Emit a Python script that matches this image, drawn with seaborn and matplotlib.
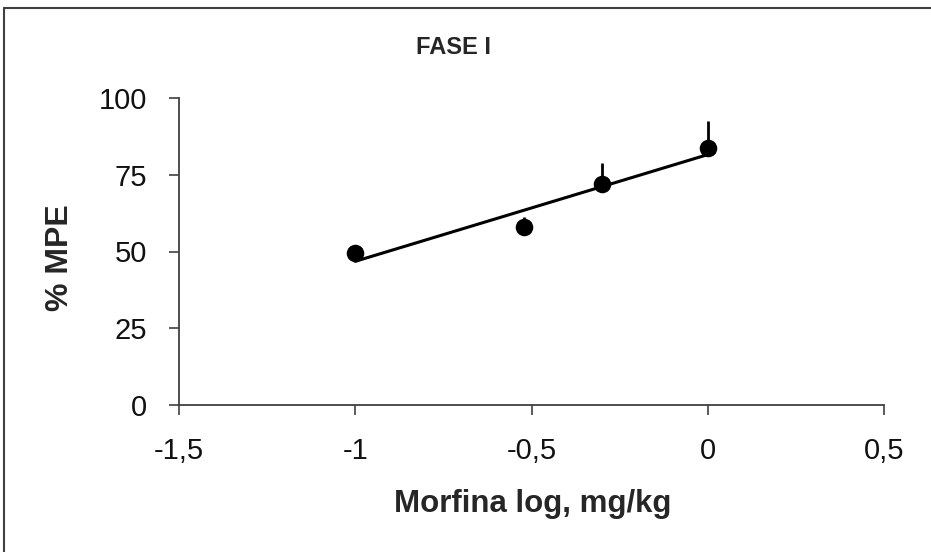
import matplotlib
matplotlib.use('Agg')
import matplotlib.pyplot as plt
import numpy as np
import pandas as pd
import seaborn as sns
from matplotlib.lines import Line2D

# data
dose_log = [-1.0, -0.52, -0.30, 0.0]
mpe = [49.4, 58.0, 72.0, 83.6]
sem = [2.0, 3.1, 6.9, 8.9]
xticks = [-1.5, -1.0, -0.5, 0.0, 0.5]
xtick_labels = ['-1,5', '-1', '-0,5', '0', '0,5']
yticks = [0, 25, 50, 75, 100]

df = pd.DataFrame({'dose': dose_log, 'mpe': mpe, 'sem': sem})

sns.set_style('ticks')
plt.rcParams['font.family'] = ['Liberation Sans', 'DejaVu Sans']

fig = plt.figure(figsize=(9.31, 5.52), dpi=100)
ax = fig.add_axes([179/931, 1-405/552, (884-179)/931, (405-98)/552])

# upper error bars only
ax.errorbar(df['dose'], df['mpe'], yerr=[np.zeros(len(df)), df['sem']],
            fmt='none', ecolor='black', elinewidth=2, capsize=0, zorder=2)
sns.regplot(data=df, x='dose', y='mpe', ci=None, ax=ax, color='black',
            scatter_kws={'s': 160, 'zorder': 3, 'alpha': 1, 'linewidths': 0},
            line_kws={'linewidth': 2.2, 'zorder': 2})

ax.set_xlim(-1.5, 0.5)
ax.set_ylim(0, 100)
ax.set_xticks(xticks)
ax.set_xticklabels(xtick_labels)
ax.set_yticks(yticks)
ax.tick_params(axis='both', labelsize=21, length=7, width=1.2, color='#404040',
               labelcolor='#111111', direction='out', pad=16)
for s in ['left', 'bottom']:
    ax.spines[s].set_color('#404040')
    ax.spines[s].set_linewidth(1.3)
sns.despine(ax=ax)

ax.set_xlabel('Morfina log, mg/kg', fontsize=22.5, fontweight='bold')
ax.set_ylabel('% MPE', fontsize=23, fontweight='bold')
ax.xaxis.set_label_coords(0.501, -0.272)
ax.yaxis.set_label_coords(-0.147, 0.48)
fig.text(454/931, 1-47/552, 'FASE I', fontsize=17, fontweight='bold',
         ha='center', va='center')

# outer frame (top and left edges visible)
fig.add_artist(Line2D([4/931, 1], [1-8/552, 1-8/552], color='#404040', lw=1.5,
                      transform=fig.transFigure))
fig.add_artist(Line2D([4/931, 4/931], [0, 1-8/552], color='#404040', lw=1.5,
                      transform=fig.transFigure))

fig.savefig('out.png', dpi=100)
